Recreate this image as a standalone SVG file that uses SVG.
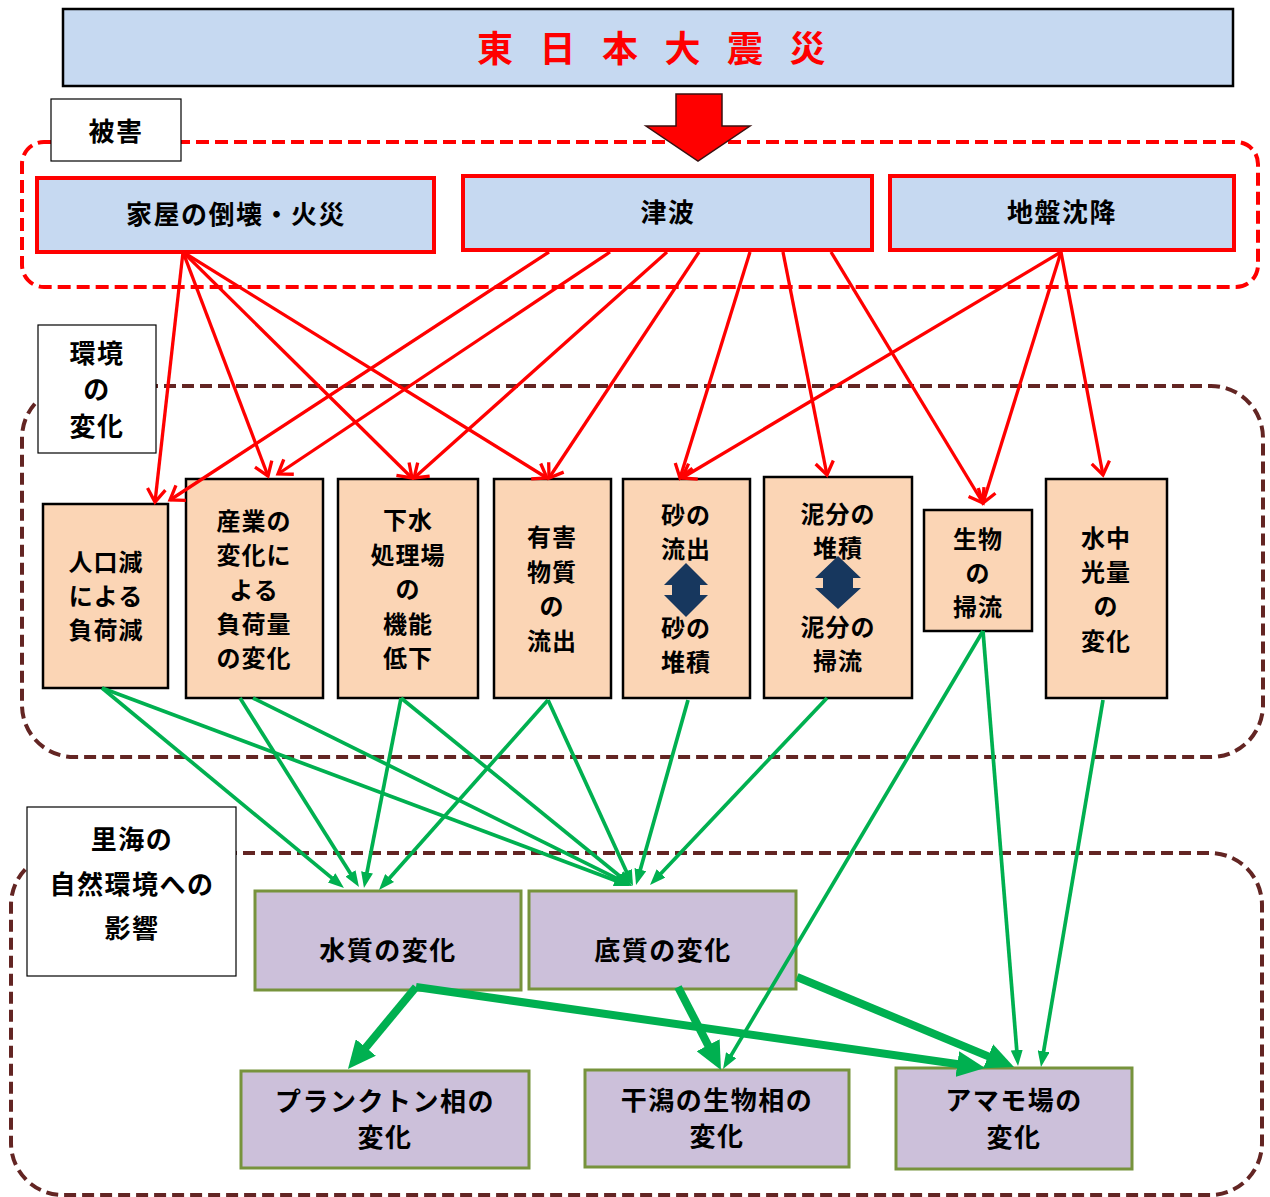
<svg xmlns="http://www.w3.org/2000/svg" width="1270" height="1197" viewBox="0 0 1270 1197">
<style>
text{font-family:"Noto Sans CJK JP","Noto Sans",sans-serif;font-weight:700;fill:#000;text-anchor:middle;dominant-baseline:central;transform:translateY(-2.5px)}
.t{font-size:26px;letter-spacing:1.5px}
.e{font-size:24px;letter-spacing:1px}
.title{font-size:36px;fill:#ff0000}
.lbl{fill:#fff;stroke:#000;stroke-width:1.2}
.dmg{fill:#c6d9f1;stroke:#ff0000;stroke-width:4}
.env{fill:#fbd5b5;stroke:#000;stroke-width:2.5}
.imp{fill:#ccc0da;stroke:#77933c;stroke-width:3}
.red{stroke:#ff0000;stroke-width:3.3;fill:none;marker-end:url(#ar)}
.gr{stroke:#00b050;stroke-width:3.7;fill:none;marker-end:url(#ag)}
.gt{stroke:#00b050;stroke-width:8;fill:none;marker-end:url(#agt)}
.dd{fill:none;stroke:#632523;stroke-width:4;stroke-dasharray:12 6}
.rd{fill:none;stroke:#ff0000;stroke-width:4;stroke-dasharray:13 6}
.dbl{fill:#17375e}
</style>
<defs>
<marker id="ar" markerUnits="userSpaceOnUse" viewBox="-16 -11 19 22" refX="0" refY="0" markerWidth="19" markerHeight="22" orient="auto" overflow="visible"><path d="M-13,-9 L0,0 L-13,9" fill="none" stroke="#ff0000" stroke-width="3.3"/></marker>
<marker id="ag" markerUnits="userSpaceOnUse" viewBox="0 -6 16 12" refX="8" refY="0" markerWidth="16" markerHeight="12" orient="auto"><path d="M0,-6 L16,0 L0,6 Z" fill="#00b050"/></marker>
<marker id="agt" markerUnits="userSpaceOnUse" viewBox="0 -13 28 26" refX="12" refY="0" markerWidth="28" markerHeight="26" orient="auto"><path d="M0,-13 L28,0 L0,13 Z" fill="#00b050"/></marker>
</defs>
<rect width="1270" height="1197" fill="#fff"/>

<g id="frames">
<rect class="rd" x="22" y="142" width="1236" height="145" rx="22"/>
<rect class="dd" x="22" y="386" width="1241" height="371" rx="52"/>
<rect class="dd" x="11" y="853" width="1251" height="342" rx="52"/>
</g>

<g id="title">
<rect x="63" y="9" width="1170" height="77" fill="#c6d9f1" stroke="#000" stroke-width="2.5"/>
<text class="title" x="495 526 557.5 589 620 651 682.5 714 745 776 807.5" y="48">東 日 本 大 震 災</text>
</g>
<g id="bigarrow">
<polygon points="676,94 722,94 722,126 750,126 698,161 646,126 676,126" fill="#ff0000" stroke="#3a1010" stroke-width="1.5"/>
</g>

<g id="label-higai"><rect class="lbl" x="51" y="99" width="130" height="62"/><text class="t" x="116" y="132">被害</text></g>
<g id="label-kankyo"><rect class="lbl" x="38" y="325" width="118" height="128"/><text class="t" x="97" y="354">環境</text><text class="t" x="97" y="390">の</text><text class="t" x="97" y="427">変化</text></g>
<g id="label-satoumi"><rect class="lbl" x="27" y="807" width="209" height="169"/><text class="t" x="132" y="840">里海の</text><text class="t" x="132" y="885">自然環境への</text><text class="t" x="132" y="929">影響</text></g>

<g id="n-kaoku"><rect class="dmg" x="37" y="178" width="397" height="74"/><text class="t" x="236" y="215">家屋の倒壊・火災</text></g>
<g id="n-tsunami"><rect class="dmg" x="463" y="176" width="409" height="74"/><text class="t" x="668" y="213">津波</text></g>
<g id="n-jiban"><rect class="dmg" x="890" y="176" width="344" height="74"/><text class="t" x="1062" y="213">地盤沈降</text></g>

<g id="n-jinko"><rect class="env" x="43" y="504" width="125" height="184"/><text class="e" x="106" y="563">人口減</text><text class="e" x="106" y="597">による</text><text class="e" x="106" y="631">負荷減</text></g>
<g id="n-sangyo"><rect class="env" x="186" y="479" width="137" height="219"/><text class="e" x="254" y="522">産業の</text><text class="e" x="254" y="556">変化に</text><text class="e" x="254" y="591">よる</text><text class="e" x="254" y="625">負荷量</text><text class="e" x="254" y="659">の変化</text></g>
<g id="n-gesui"><rect class="env" x="338" y="479" width="140" height="219"/><text class="e" x="408" y="521">下水</text><text class="e" x="408" y="556">処理場</text><text class="e" x="408" y="590">の</text><text class="e" x="408" y="625">機能</text><text class="e" x="408" y="659">低下</text></g>
<g id="n-yugai"><rect class="env" x="494" y="479" width="117" height="219"/><text class="e" x="552" y="538">有害</text><text class="e" x="552" y="573">物質</text><text class="e" x="552" y="607">の</text><text class="e" x="552" y="642">流出</text></g>
<g id="n-suna"><rect class="env" x="623" y="479" width="127" height="219"/><text class="e" x="686" y="516">砂の</text><text class="e" x="686" y="550">流出</text><polygon class="dbl" points="686,563 708,585 700,585 700,595 708,595 686,617 664,595 672,595 672,585 664,585"/><text class="e" x="686" y="629">砂の</text><text class="e" x="686" y="663">堆積</text></g>
<g id="n-deibun"><rect class="env" x="764" y="477" width="148" height="221"/><text class="e" x="838" y="515">泥分の</text><text class="e" x="838" y="549">堆積</text><polygon class="dbl" points="838,556 861,578 853,578 853,588 861,588 838,609 815,588 823,588 823,578 815,578"/><text class="e" x="838" y="628">泥分の</text><text class="e" x="838" y="662">掃流</text></g>
<g id="n-seibutsu"><rect class="env" x="924" y="510" width="108" height="121"/><text class="e" x="978" y="540">生物</text><text class="e" x="978" y="574">の</text><text class="e" x="978" y="608">掃流</text></g>
<g id="n-suichu"><rect class="env" x="1046" y="479" width="121" height="219"/><text class="e" x="1106" y="539">水中</text><text class="e" x="1106" y="573">光量</text><text class="e" x="1106" y="607">の</text><text class="e" x="1106" y="642">変化</text></g>

<g id="n-suishitsu"><rect class="imp" x="255" y="891" width="266" height="99"/><text class="t" x="388" y="951">水質の変化</text></g>
<g id="n-teishitsu"><rect class="imp" x="529" y="891" width="267" height="98"/><text class="t" x="663" y="951">底質の変化</text></g>
<g id="n-plankton"><rect class="imp" x="241" y="1071" width="288" height="97"/><text class="t" x="385" y="1102">プランクトン相の</text><text class="t" x="385" y="1138">変化</text></g>
<g id="n-higata"><rect class="imp" x="585" y="1070" width="264" height="97"/><text class="t" x="717" y="1101">干潟の生物相の</text><text class="t" x="717" y="1137">変化</text></g>
<g id="n-amamo"><rect class="imp" x="896" y="1068" width="236" height="101"/><text class="t" x="1014" y="1101">アマモ場の</text><text class="t" x="1014" y="1138">変化</text></g>

<g id="connectors">
<line class="red" x1="183" y1="252" x2="155" y2="502"/>
<line class="red" x1="183" y1="252" x2="268" y2="476"/>
<line class="red" x1="183" y1="252" x2="412" y2="478"/>
<line class="red" x1="183" y1="252" x2="547" y2="478"/>
<line class="red" x1="549" y1="252" x2="170" y2="500"/>
<line class="red" x1="610" y1="252" x2="278" y2="474"/>
<line class="red" x1="667" y1="252" x2="414" y2="478"/>
<line class="red" x1="699" y1="252" x2="549" y2="478"/>
<line class="red" x1="750" y1="252" x2="680" y2="478"/>
<line class="red" x1="783" y1="252" x2="827" y2="475"/>
<line class="red" x1="831" y1="252" x2="983" y2="503"/>
<line class="red" x1="1061" y1="252" x2="682" y2="478"/>
<line class="red" x1="1061" y1="252" x2="983" y2="503"/>
<line class="red" x1="1061" y1="252" x2="1103" y2="475"/>

<line class="gr" x1="102" y1="688" x2="337.8" y2="882.9"/>
<line class="gr" x1="102" y1="688" x2="622.5" y2="883.2"/>
<line class="gr" x1="240" y1="698" x2="354.7" y2="880.2"/>
<line class="gr" x1="253" y1="698" x2="624.8" y2="882.4"/>
<line class="gr" x1="401" y1="698" x2="365.5" y2="880.2"/>
<line class="gr" x1="401" y1="698" x2="625.8" y2="881.0"/>
<line class="gr" x1="548" y1="700" x2="384.3" y2="884.0"/>
<line class="gr" x1="548" y1="700" x2="629.7" y2="878.7"/>
<line class="gr" x1="688" y1="700" x2="638.2" y2="877.3"/>
<line class="gr" x1="827" y1="698" x2="655.5" y2="879.2"/>
<line class="gr" x1="983" y1="631" x2="727.1" y2="1062.1"/>
<line class="gr" x1="983" y1="631" x2="1017.4" y2="1058.0"/>
<line class="gr" x1="1103" y1="700" x2="1042.3" y2="1059.1"/>

<line class="gt" x1="416" y1="987" x2="358.2" y2="1056.7"/>
<line class="gt" x1="416" y1="987" x2="969.2" y2="1065.7"/>
<line class="gt" x1="678" y1="987" x2="713.6" y2="1055.8"/>
<line class="gt" x1="797" y1="977" x2="999.2" y2="1060.9"/>
</g>
</svg>
